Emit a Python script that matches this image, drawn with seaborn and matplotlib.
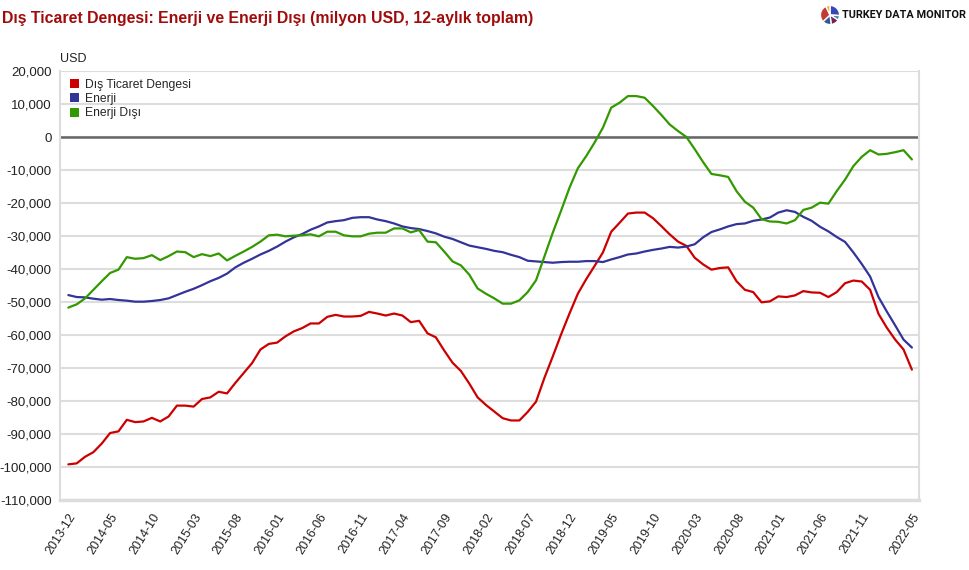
import numpy as np
import pandas as pd
import matplotlib
matplotlib.use("Agg")
import matplotlib.pyplot as plt
import seaborn as sns
from matplotlib.patches import Patch

# ---------------- data (million USD, 12-month rolling sum) ----------------
months = pd.period_range("2013-12", "2022-05", freq="M").strftime("%Y-%m").tolist()

dis_ticaret = [
    -99.2, -98.9, -96.9, -95.5, -92.9, -89.7, -89.2, -85.7, -86.4, -86.2,
    -85.1, -86.2, -84.7, -81.4, -81.4, -81.7, -79.4, -78.9, -77.2, -77.7,
    -74.5, -71.5, -68.5, -64.4, -62.7, -62.3, -60.4, -58.9, -57.9, -56.5,
    -56.5, -54.5, -53.9, -54.4, -54.4, -54.2, -53.0, -53.5, -54.1, -53.5,
    -54.1, -56.1, -55.7, -59.5, -60.7, -64.7, -68.4, -70.9, -74.7, -78.9,
    -81.2, -83.2, -85.2, -85.9, -85.9, -83.3, -80.2, -73.0, -66.5, -59.8,
    -53.5, -47.5, -43.1, -39.1, -35.0, -28.7, -26.0, -23.2, -22.9, -22.9,
    -24.6, -27.0, -29.5, -31.7, -33.0, -36.6, -38.6, -40.2, -39.7, -39.5,
    -43.7, -46.3, -47.0, -50.1, -49.8, -48.3, -48.5, -48.0, -46.7, -47.1,
    -47.2, -48.5, -47.0, -44.3, -43.5, -43.8, -46.3, -53.6, -57.8, -61.4,
    -64.4, -70.5,
]
enerji = [
    -47.9, -48.5, -48.6, -49.0, -49.3, -49.1, -49.4, -49.6, -49.9, -49.9,
    -49.7, -49.4, -48.9, -47.9, -46.9, -46.0, -44.9, -43.7, -42.7, -41.4,
    -39.5, -38.1, -36.9, -35.6, -34.5, -33.2, -31.7, -30.4, -29.4, -28.1,
    -27.1, -25.9, -25.5, -25.2, -24.5, -24.3, -24.3, -25.0, -25.5, -26.2,
    -27.1, -27.6, -27.9, -28.5, -29.2, -30.2, -30.9, -31.9, -32.9, -33.4,
    -33.9, -34.5, -34.9, -35.7, -36.4, -37.5, -37.7, -37.9, -38.1, -37.9,
    -37.8, -37.8, -37.6, -37.6, -37.9, -37.1, -36.4, -35.6, -35.3, -34.7,
    -34.2, -33.8, -33.3, -33.5, -33.2, -32.5, -30.4, -28.8, -28.0, -27.1,
    -26.4, -26.2, -25.4, -25.0, -24.4, -22.9, -22.2, -22.7, -24.2, -25.4,
    -27.2, -28.6, -30.3, -31.8, -35.0, -38.5, -42.3, -48.5, -52.9, -57.1,
    -61.4, -63.8,
]
enerji_disi = [
    -51.7, -50.7, -48.9, -46.3, -43.7, -41.2, -40.2, -36.4, -36.9, -36.7,
    -35.8, -37.3, -36.1, -34.7, -34.9, -36.4, -35.5, -36.1, -35.3, -37.4,
    -36.0, -34.7, -33.3, -31.7, -29.8, -29.6, -30.1, -29.9, -29.8, -29.5,
    -30.1, -28.7, -28.7, -29.8, -30.1, -30.1, -29.3, -29.0, -29.0, -27.7,
    -27.7, -28.9, -28.2, -31.7, -31.9, -34.7, -37.7, -38.9, -41.7, -45.9,
    -47.5, -48.9, -50.5, -50.5, -49.5, -47.0, -43.4, -36.2, -29.0, -22.3,
    -15.4, -9.5, -5.8, -1.7, 2.8, 8.9, 10.4, 12.4, 12.4, 11.9,
    9.4, 6.7, 3.8, 1.8, 0.0, -3.7, -7.6, -11.2, -11.6, -12.1,
    -16.4, -19.6, -21.4, -24.9, -25.6, -25.7, -26.2, -25.2, -22.1, -21.4,
    -19.9, -20.2, -16.4, -12.9, -8.8, -6.0, -4.0, -5.3, -5.1, -4.6,
    -4.0, -6.8,
]

series_names = ["Dış Ticaret Dengesi", "Enerji", "Enerji Dışı"]
series_colors = ["#CC0000", "#333399", "#339900"]
tick_labels = months[:96:5] + [months[-1]]
y_ticks = list(range(20000, -110001, -10000))

title = "Dış Ticaret Dengesi: Enerji ve Enerji Dışı (milyon USD, 12-aylık toplam)"
brand = "TURKEY DATA MONITOR"

# ---------------- long-form table ----------------
idx = np.arange(len(months))
df = pd.concat([
    pd.DataFrame({"i": idx, "value": np.array(v) * 1000, "series": n})
    for n, v in zip(series_names, [dis_ticaret, enerji, enerji_disi])
])

# ---------------- style ----------------
sns.set_style("white")
plt.rcParams["font.family"] = ["Liberation Sans", "DejaVu Sans"]

fig = plt.figure(figsize=(9.7, 5.7), dpi=100)
ax = fig.add_axes([60 / 970, 1 - 500 / 570, (919 - 60) / 970, (500 - 71) / 570])

ax.set_ylim(-110000, 20000)
ax.set_xlim(-1.0, len(months) - 1 + 0.85)
ax.set_yticks(y_ticks)
ax.yaxis.grid(True, color="#dddddd", linewidth=1.5, zorder=0)
ax.xaxis.grid(False)
ax.axhline(0, color="#666666", linewidth=1.8, zorder=1)

sns.lineplot(data=df, x="i", y="value", hue="series", hue_order=series_names,
             palette=series_colors, linewidth=1.6, ax=ax, legend=False, zorder=3)

ax.set_yticklabels([f"{t:,}" for t in y_ticks], fontsize=9.5, color="#222222")
tick_pos = [months.index(t) for t in tick_labels]
ax.set_xticks(tick_pos)
ax.set_xticklabels(tick_labels, rotation=58, ha="right", va="top",
                   rotation_mode="anchor", fontsize=9, color="#222222")
ax.tick_params(axis="both", length=0, pad=6)
ax.tick_params(axis="x", pad=8)
ax.set_xlabel("")
ax.set_ylabel("")

for side in ["left", "right", "top", "bottom"]:
    ax.spines[side].set_color("#dddddd")
    ax.spines[side].set_linewidth(1.5)
ax.spines["top"].set_visible(False)
ax.spines["bottom"].set_linewidth(2.5)

# legend with square markers
handles = [Patch(facecolor=c, edgecolor="none") for c in series_colors]
ax.legend(handles, series_names, loc="upper left", bbox_to_anchor=(0.0, 1.005),
          frameon=False, fontsize=8.7, handlelength=0.8, handleheight=0.8,
          handletextpad=0.45, labelspacing=0.2, borderaxespad=0.4)

# titles
fig.text(2 / 970, 1 - 18 / 570, title, fontsize=11.4, fontweight="bold",
         color="#A00C0C", ha="left", va="center")
fig.text(60 / 970, 1 - 59 / 570, "USD", fontsize=9, color="#222222",
         ha="left", va="center")

# logo
lax = fig.add_axes([820 / 970, 1 - 25 / 570, 20 / 970, 20 / 570])
lax.pie([26, 8, 14, 15, 30, 7],
        colors=["#3548b8", "#3a8fa8", "#7a1f55", "#2d5a9e", "#c43a32", "#f0a830"],
        startangle=90, counterclock=False, radius=1.2)
lax.set_aspect("equal")
fig.text(842 / 970, 1 - 15 / 570, brand, fontsize=7.8,
         fontweight="bold", color="#111111", ha="left", va="center",
         family=["Roboto", "Liberation Sans"])

fig.savefig("out.png", dpi=100)
